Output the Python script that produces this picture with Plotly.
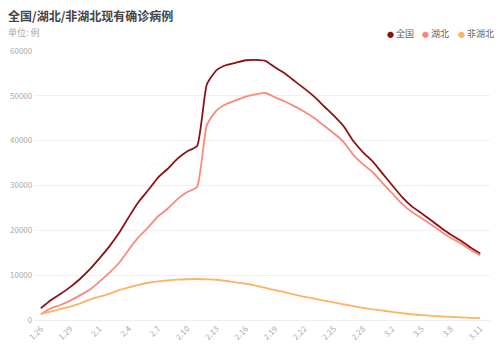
import plotly.graph_objects as go

dates = ["1.26","1.27","1.28","1.29","1.30","1.31",
         "2.1","2.2","2.3","2.4","2.5","2.6","2.7","2.8","2.9","2.10",
         "2.11","2.12","2.13","2.14","2.15","2.16","2.17","2.18","2.19","2.20",
         "2.21","2.22","2.23","2.24","2.25","2.26","2.27","2.28","2.29",
         "3.1","3.2","3.3","3.4","3.5","3.6","3.7","3.8","3.9","3.10","3.11"]

national = [2613, 4409, 5806, 7333, 9144, 11289,
            13748, 16369, 19381, 22942, 26302, 28985, 31774, 33738, 35982, 37626,
            38800, 52526, 55748, 56873, 57416, 57934, 58016, 57805, 56303, 54965,
            53284, 51606, 49824, 47672, 45604, 43258, 39919, 37414, 35329,
            32652, 30004, 27433, 25352, 23784, 22177, 20533, 19016, 17721, 16145, 14831]

hubei = [1303, 2567, 3349, 4334, 5486, 6738,
         8565, 10532, 12712, 15679, 18483, 20677, 23139, 24881, 26965, 28532,
         29659, 43455, 46768, 48175, 49030, 49847, 50338, 50633, 49665, 48730,
         47647, 46439, 45054, 43369, 41660, 39755, 36829, 34715, 32959,
         30543, 28216, 25905, 24085, 22695, 21239, 19710, 18303, 17151, 15671, 14427]

non_hubei = [n - h for n, h in zip(national, hubei)]

series_names = ["全国", "湖北", "非湖北"]
colors = ["#8b1313", "#f98a7c", "#fbb462"]
tick_step = 3

FONT = "Noto Sans CJK SC, Noto Sans, sans-serif"
idx = list(range(len(dates)))

fig = go.Figure()
for name, vals, col in zip(series_names, [national, hubei, non_hubei], colors):
    fig.add_trace(go.Scatter(
        x=idx, y=vals, mode="lines", name=name,
        line=dict(color=col, width=1.8, shape="spline", smoothing=0.5),
        showlegend=False, hoverinfo="skip"))

tickvals = idx[::tick_step]
ticktext = dates[::tick_step]

L, R, T, B = 35, 10, 51, 34
PW, PH = 500 - L - R, 354 - T - B

def px(x):
    return (x - L) / PW

def py(y):
    return (354 - B - y) / PH

fig.update_layout(
    width=500, height=354,
    margin=dict(l=L, r=R, t=T, b=B),
    paper_bgcolor="white", plot_bgcolor="white",
    font=dict(family=FONT, size=8, color="#999"),
    xaxis=dict(range=[-0.6, 46.0], tickvals=tickvals, ticktext=ticktext,
               tickangle=-45, showgrid=False, zeroline=False,
               showline=True, linecolor="#eeeeee", linewidth=1,
               ticks="", tickfont=dict(size=8, color="#aaa")),
    yaxis=dict(range=[0, 60000], dtick=10000, tickformat="d",
               showgrid=True, gridcolor="#f0f0f0",
               zeroline=False, showline=False, ticks="",
               tickfont=dict(size=8, color="#aaa"), ticksuffix=" "),
)

fig.add_annotation(xref="paper", yref="paper", x=px(6), y=py(15),
                   xanchor="left", yanchor="middle", showarrow=False,
                   text="<b>全国/湖北/非湖北现有确诊病例</b>",
                   font=dict(family=FONT, size=12, color="#444"))
fig.add_annotation(xref="paper", yref="paper", x=px(6), y=py(32),
                   xanchor="left", yanchor="middle", showarrow=False,
                   text="单位: 例",
                   font=dict(family=FONT, size=9, color="#aaa"))

legend_x = [385, 420, 456]
for name, col, lx in zip(series_names, colors, legend_x):
    fig.add_annotation(xref="paper", yref="paper", x=px(lx), y=py(34),
                       xanchor="left", yanchor="middle", showarrow=False,
                       text=f"<span style='color:{col};font-size:7px'>●</span> {name}",
                       font=dict(family=FONT, size=9, color="#666"))

fig.write_html("out.html")
